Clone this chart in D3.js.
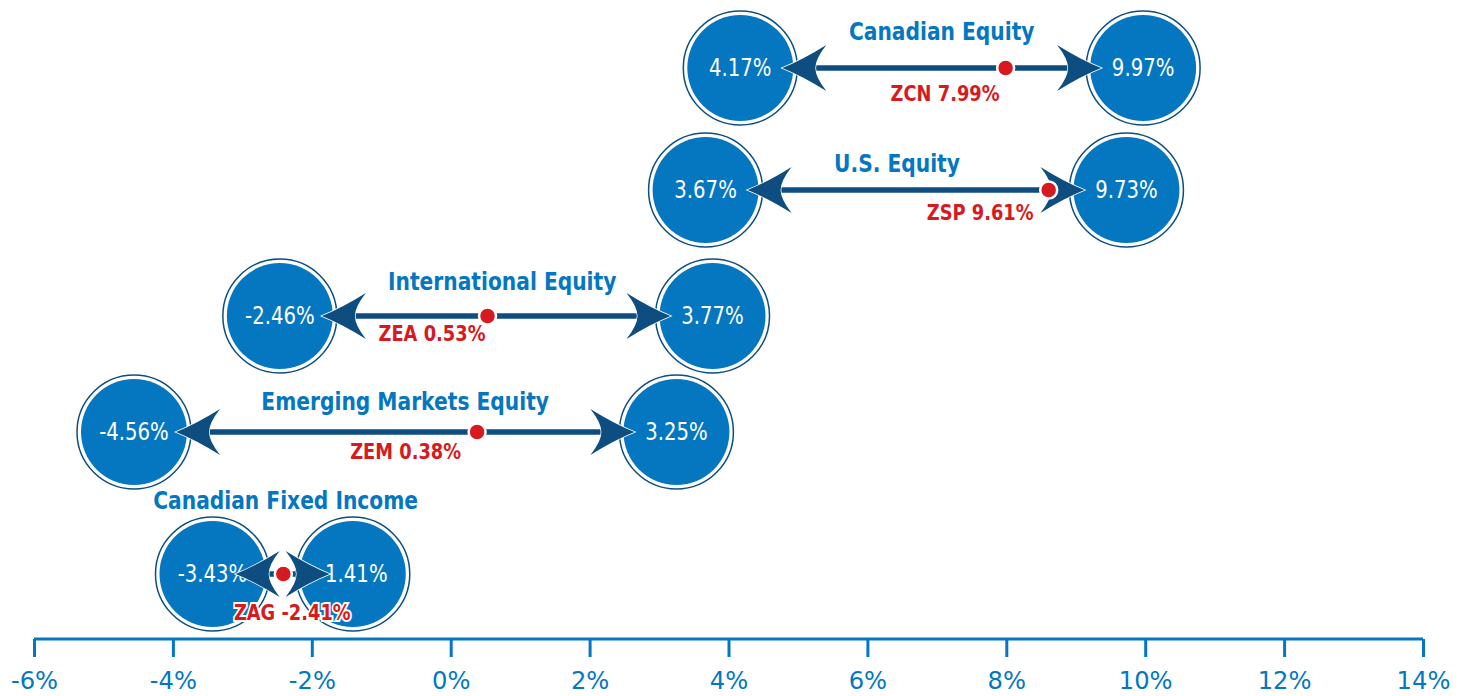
<!DOCTYPE html>
<html>
<head>
<meta charset="utf-8">
<script src="https://cdn.jsdelivr.net/npm/d3@7"></script>
<style>
  body { margin: 0; background: #fff; }
  svg { display: block; font-family: "DejaVu Sans", sans-serif; }
</style>
</head>
<body>
<svg id="chart" width="1465" height="696"></svg>
<script>
// data
const rowNames = ["Canadian Equity", "U.S. Equity", "International Equity", "Emerging Markets Equity", "Canadian Fixed Income"];
const lowValues = [4.17, 3.67, -2.46, -4.56, -3.43];
const highValues = [9.97, 9.73, 3.77, 3.25, -1.41];
const etfTickers = ["ZCN", "ZSP", "ZEA", "ZEM", "ZAG"];
const etfValues = [7.99, 9.61, 0.53, 0.38, -2.41];
// where the red dot sits on the picture (ZSP dot is drawn short of its label value)
const etfDotValues = [7.99, 8.61, 0.53, 0.38, -2.41];
const xTicks = [-6, -4, -2, 0, 2, 4, 6, 8, 10, 12, 14];

// layout
const rowY = [68, 190, 316, 432, 574];
const titleDy = [-28, -18, -26, -22, -65];
const titleDx = [0, -19, 6, 0, 3];
const labelDx = [-6, -15, -2, -16, 9];
const labelDy = [33, 30, 25, 27, 46];
const blue = "#0577c1", navy = "#0e4d80", red = "#d71920";
const rFill = 53, rRing = 57, headLen = 44, headW = 23;

const svg = d3.select("#chart");
const x = d3.scaleLinear().domain([-6, 14]).range([34, 1423]);

// condensed look: squeeze text horizontally around its anchor
function squeeze(sel, k) {
  sel.attr("transform", function () {
    const tx = +this.getAttribute("x") || 0;
    return "translate(" + tx + ",0) scale(" + k + ",1) translate(" + (-tx) + ",0)";
  });
}

// axis
const axisG = svg.append("g").attr("transform", "translate(0,639)");
axisG.call(d3.axisBottom(x).tickValues(xTicks).tickSize(18).tickPadding(14).tickFormat(d => d + "%"));
axisG.select(".domain").attr("stroke", blue).attr("stroke-width", 3).attr("d", "M" + x(-6) + ",0H" + x(14));
axisG.selectAll(".tick line").attr("stroke", blue).attr("stroke-width", 3);
axisG.selectAll(".tick text")
  .attr("fill", blue)
  .attr("transform", "scale(0.97,1)")
  .style("font-size", "25px")
  .style("font-family", "'DejaVu Sans', sans-serif");

const arrowPath = "M0,0 Q20,-8 " + headLen + "," + (-headW) + " Q33,-9 33,0 Q33,9 " + headLen + "," + headW + " Q20,8 0,0 Z";

rowNames.forEach((name, i) => {
  const g = svg.append("g").attr("transform", "translate(0," + rowY[i] + ")");
  const xl = x(lowValues[i]), xh = x(highValues[i]);

  // circles
  [lowValues[i], highValues[i]].forEach(v => {
    const c = g.append("g").attr("transform", "translate(" + x(v) + ",0)");
    c.append("circle").attr("r", rRing).attr("fill", "#fff").attr("stroke", navy).attr("stroke-width", 1.5);
    c.append("circle").attr("r", rFill).attr("fill", blue);
    c.append("text")
      .attr("y", 8)
      .attr("text-anchor", "middle")
      .attr("fill", "#fff")
      .attr("transform", "scale(0.82,1)")
      .style("font-size", "24px")
      .text(v.toFixed(2) + "%");
  });

  // arrow
  const mid = (xl + xh) / 2;
  const off = Math.min(42, (xh - xl) / 2 - headLen - 3);
  const tipL = xl + off, tipR = xh - off;
  g.append("line")
    .attr("x1", tipL + 30).attr("x2", tipR - 30)
    .attr("stroke", navy).attr("stroke-width", 5.5);
  g.append("path").attr("d", arrowPath)
    .attr("transform", "translate(" + tipL + ",0)")
    .attr("fill", navy).attr("stroke", "#fff").attr("stroke-width", 1.5).style("paint-order", "stroke");
  g.append("path").attr("d", arrowPath)
    .attr("transform", "translate(" + tipR + ",0) scale(-1,1)")
    .attr("fill", navy).attr("stroke", "#fff").attr("stroke-width", 1.5).style("paint-order", "stroke");

  // ETF dot
  const dx = x(etfDotValues[i]);
  g.append("circle").attr("cx", dx).attr("r", 8.5)
    .attr("fill", red).attr("stroke", "#fff").attr("stroke-width", 2.5);

  // title
  g.append("text")
    .attr("x", mid + titleDx[i]).attr("y", titleDy[i])
    .attr("text-anchor", "middle")
    .attr("fill", blue)
    .style("font-size", "25px")
    .style("font-weight", "bold")
    .text(name)
    .call(squeeze, 0.81);

  // ETF label
  const lastRow = i === rowNames.length - 1;
  g.append("text")
    .attr("x", dx + labelDx[i])
    .attr("y", labelDy[i])
    .attr("text-anchor", lastRow ? "middle" : "end")
    .attr("fill", red)
    .attr("stroke", "#fff").attr("stroke-width", 4).style("paint-order", "stroke")
    .style("font-size", "21px")
    .style("font-weight", "bold")
    .text(etfTickers[i] + " " + etfValues[i].toFixed(2) + "%")
    .call(squeeze, 0.85);
});
</script>
</body>
</html>
